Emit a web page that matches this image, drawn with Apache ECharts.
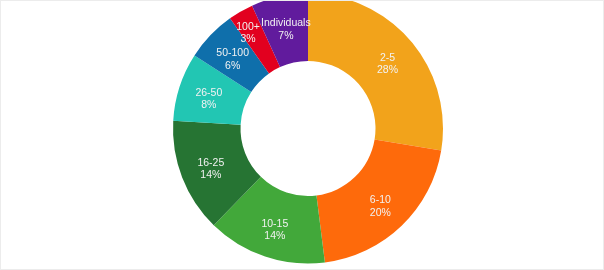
<!DOCTYPE html>
<html>
<head>
<meta charset="utf-8">
<script src="https://cdn.jsdelivr.net/npm/echarts@6/dist/echarts.min.js"></script>
<style>
  html, body { margin: 0; padding: 0; background: #fff; }
  #main { width: 602px; height: 268px; border: 1px solid #ececec; }
</style>
</head>
<body>
<div id="main"></div>
<script>
// data (clockwise from 12 o'clock)
var categories = ['2-5', '6-10', '10-15', '16-25', '26-50', '50-100', '100+', 'Individuals'];
var shares = [27.6, 20.4, 14.3, 13.6, 8.2, 6.1, 3.0, 6.8];
var colors = ['#f2a31b', '#fe6a0b', '#42a83a', '#267433', '#22c6b3', '#0f6fab', '#e2001f', '#611b9d'];

var myChart = echarts.init(document.getElementById('main'));

var option = {
    animation: false,
    color: colors,
    series: [
        {
            type: 'pie',
            center: [307, 127.5],
            radius: [67.5, 135],
            startAngle: 90,
            clockwise: true,
            percentPrecision: 0,
            avoidLabelOverlap: false,
            labelLayout: { hideOverlap: false },
            label: {
                position: 'inside',
                formatter: '{b}\n{d}%',
                color: '#f2f2f2',
                fontFamily: 'Liberation Sans',
                fontSize: 10.5,
                lineHeight: 12.5,
                offset: [0, 3]
            },
            labelLine: { show: false },
            itemStyle: { borderWidth: 0 },
            data: categories.map(function (c, i) {
                var d = { name: c, value: shares[i] };
                // the small slice's label sits up and to the left, as in the picture
                if (c === '100+') d.label = { offset: [-8, -5] };
                return d;
            })
        }
    ]
};

myChart.setOption(option);
</script>
</body>
</html>
